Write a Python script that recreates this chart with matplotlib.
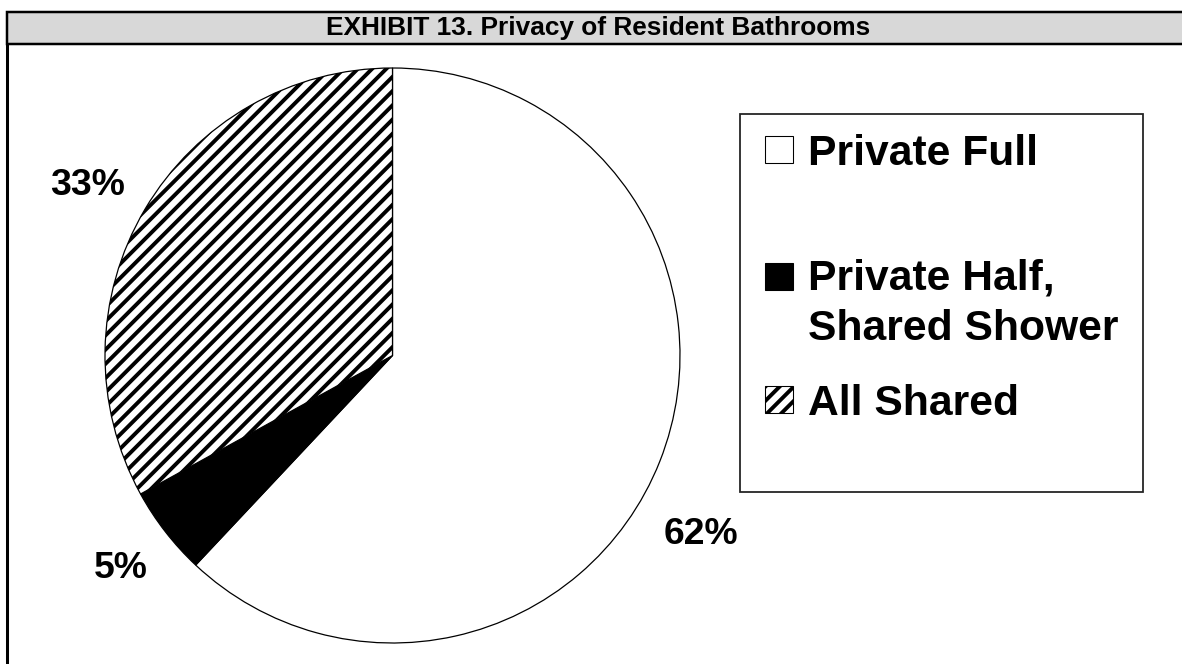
import numpy as np
import matplotlib
matplotlib.use("Agg")
import matplotlib.pyplot as plt
from matplotlib.patches import Rectangle

# bathroom privacy shares (percent)
categories = ["Private Full", "Private Half,\nShared Shower", "All Shared"]
shares = [62, 5, 33]
pct_labels = ["62%", "5%", "33%"]
face_colors = ["white", "black", "white"]
hatches = ["", "", "///"]

W, H = 1182, 664
DPI = 128

plt.rcParams["font.family"] = ["Liberation Sans", "DejaVu Sans"]
plt.rcParams["hatch.linewidth"] = 2.2

fig = plt.figure(figsize=(W / DPI, H / DPI), dpi=DPI)

# page frame, title band and legend box, in pixel units
bg = fig.add_axes([0, 0, 1, 1])
bg.set_xlim(0, W)
bg.set_ylim(H, 0)
bg.axis("off")
bg.add_patch(Rectangle((7, 12), W + 20, 32, facecolor="#d8d8d8",
                       edgecolor="black", lw=1.4, clip_on=False))
bg.plot([7, 7], [44, H + 5], color="black", lw=1.7, solid_capstyle="butt",
        clip_on=False)
bg.text(598, 28, "EXHIBIT 13. Privacy of Resident Bathrooms", ha="center",
        va="center", fontsize=14.8, fontweight="bold")

# pie
ax = fig.add_axes([105 / W, (H - 643) / H, 575 / W, 575 / H])
wedges, _ = ax.pie(shares, colors=face_colors, startangle=90,
                   counterclock=False, hatch=hatches,
                   wedgeprops=dict(edgecolor="black", linewidth=0.7))
ax.set_xlim(-1, 1)
ax.set_ylim(-1, 1)

label_r = [1.24, 1.20, 1.215]
label_turn = [-8.5, 0.3, 1.4]
for w, txt, r, d in zip(wedges, pct_labels, label_r, label_turn):
    ang = np.deg2rad((w.theta1 + w.theta2) / 2 + d)
    ax.text(r * np.cos(ang), r * np.sin(ang), txt, ha="center",
            va="center", fontsize=21, fontweight="bold", clip_on=False)

# legend
bg.add_patch(Rectangle((740, 114), 403, 378, facecolor="white",
                       edgecolor="#222222", lw=1.0))
first_baselines = [165, 292, 415]
line_pitch = 48
for w, name, yb in zip(wedges, categories, first_baselines):
    bg.add_patch(Rectangle((765, yb - 29), 28, 27, facecolor=w.get_facecolor(),
                           edgecolor="black", hatch=w.get_hatch(), lw=0.6))
    # multi-line text is anchored on its last baseline
    last = yb + line_pitch * name.count("\n")
    bg.text(808, last, name, ha="left", va="baseline", fontsize=24,
            fontweight="bold", linespacing=1.33)

fig.savefig("out.png", dpi=DPI)
